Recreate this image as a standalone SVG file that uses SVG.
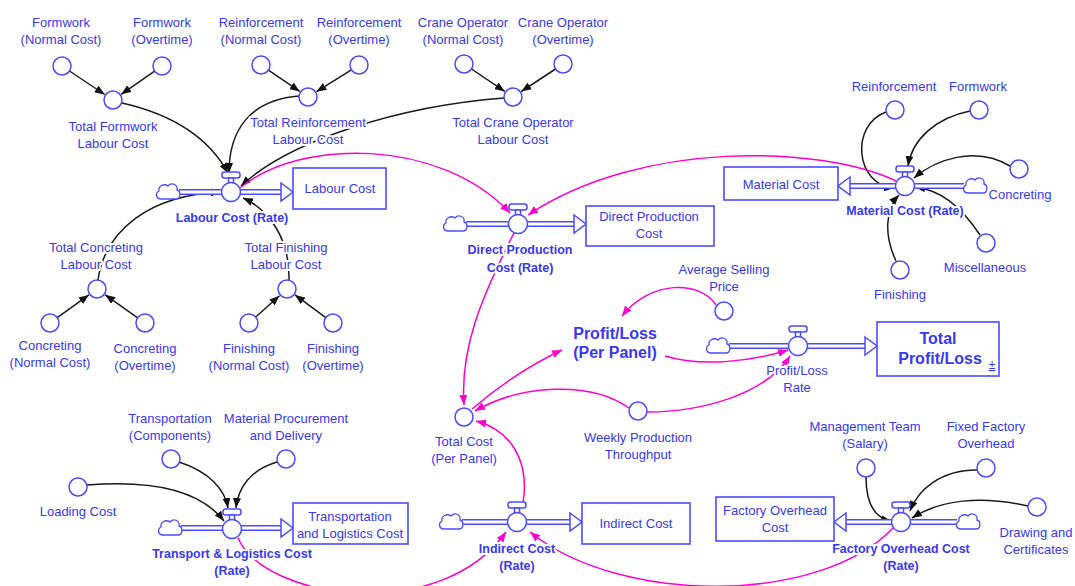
<svg xmlns="http://www.w3.org/2000/svg" xmlns:xlink="http://www.w3.org/1999/xlink" width="1075" height="586" viewBox="0 0 1075 586">
  <style>
    .t { font-family: "Liberation Sans", Arial, sans-serif; font-size: 13px; fill: #3838ee; text-anchor: middle; }
    .h { stroke: #fff; stroke-width: 4; stroke-linejoin: round; paint-order: stroke; }
    .b { font-weight: bold; font-size: 12.5px; }
    .big { font-weight: bold; font-size: 16px; }
    .aux { fill: #fff; stroke: #4a4aff; stroke-width: 1.5; }
    .box { fill: #fff; stroke: #4a4aff; stroke-width: 1.6; }
    .vs { fill: #fff; stroke: #4a4aff; stroke-width: 1.5; }
    .cl { fill: #fff; stroke: #4a4aff; stroke-width: 1.3; }
    .po { stroke: #4a4aff; stroke-width: 6; fill: none; }
    .pi { stroke: #fff; stroke-width: 3; fill: none; }
    .ah { fill: #fff; stroke: #4a4aff; stroke-width: 1.5; stroke-linejoin: miter; }
    .k { fill: none; stroke: #1a1a1a; stroke-width: 1.5; marker-end: url(#ak); }
    .p { fill: none; stroke: #f0c; stroke-width: 1.5; marker-end: url(#ap); }
  </style>
  <defs>
    <marker id="ak" viewBox="0 0 10 8" refX="10" refY="4" markerWidth="10" markerHeight="8" markerUnits="userSpaceOnUse" orient="auto">
      <path d="M0,0L10,4L0,8z" fill="#111"/>
    </marker>
    <marker id="ap" viewBox="0 0 10 8" refX="10" refY="4" markerWidth="10" markerHeight="8" markerUnits="userSpaceOnUse" orient="auto">
      <path d="M0,0L10,4L0,8z" fill="#f0c"/>
    </marker>
    <g id="valve">
      <rect x="-9" y="-20" width="18" height="6" rx="2.5" class="vs"/>
      <rect x="-2.5" y="-14" width="5" height="5" class="vs"/>
      <circle r="9.5" class="vs"/>
    </g>
    <path id="cloud" class="cl" d="M-7,7 C-12,7 -13,1 -9,-1 C-10,-6 -4,-9 0,-6 C3,-10 10,-8 9,-2 C13,-1 13,7 8,7 Z"/>
  </defs>

  <rect width="1075" height="586" fill="#fff"/>

  <!-- connectors -->
  <g id="connectors">
    <!-- labour cost inputs -->
    <path class="k" d="M69.5,71 L104.7,94.5"/>
    <path class="k" d="M154.6,71.1 L121.2,94.3"/>
    <path class="k" d="M268.4,70.1 L299.7,91.4"/>
    <path class="k" d="M351.4,69.8 L316.5,91.7"/>
    <path class="k" d="M471.5,69 L504.7,91.4"/>
    <path class="k" d="M555.5,69 L521.3,91.5"/>
    <path class="k" d="M57.3,317.7 L88.9,294.9"/>
    <path class="k" d="M137.7,317.8 L105.2,294.8"/>
    <path class="k" d="M255.7,317 L279.5,295.7"/>
    <path class="k" d="M325.8,317.7 L295,294.9"/>
    <path class="k" d="M122,103 C175,115 210,140 228,173"/>
    <path class="k" d="M299,96 C250,100 229,130 229,173"/>
    <path class="k" d="M504,98 C400,106 290,140 241,186"/>
    <path class="k" d="M98,280 C105,230 150,195 221,192"/>
    <path class="k" d="M289,280 C290,240 270,210 243,198"/>
    <!-- material cost inputs -->
    <path class="k" d="M886,112 C850,125 855,185 894,188"/>
    <path class="k" d="M970,111 C935,118 912,140 908,166"/>
    <path class="k" d="M1010,166 C975,145 935,160 914,178"/>
    <path class="k" d="M980,235 C960,205 940,190 915,187"/>
    <path class="k" d="M896,261 C884,235 885,210 899,195"/>
    <!-- transport inputs -->
    <path class="k" d="M87,485 C150,480 200,490 224,521"/>
    <path class="k" d="M179,462 C210,472 225,490 228,508"/>
    <path class="k" d="M277,462 C250,470 238,488 236,508"/>
    <!-- factory overhead inputs -->
    <path class="k" d="M866,477 C866,505 875,518 891,521"/>
    <path class="k" d="M977,470 C940,470 918,490 910,511"/>
    <path class="k" d="M1028,506 C980,495 940,500 912,518"/>
    <!-- cost and profit links -->
    <path class="p" d="M240,188 C300,138 440,138 510,213"/>
    <path class="p" d="M896,181 C820,145 640,140 528,215"/>
    <path class="p" d="M514,233 C480,300 460,350 464,405"/>
    <path class="p" d="M472,409 C500,385 530,365 562,350"/>
    <path class="p" d="M716,305 C700,280 650,280 622,316"/>
    <path class="p" d="M665,356 C700,367 750,362 788,350"/>
    <path class="p" d="M647,412 C700,412 765,395 790,356"/>
    <path class="p" d="M629,408 C590,380 520,385 475,411"/>
    <path class="p" d="M523,503 C530,460 510,430 476,421"/>
    <path class="p" d="M238,538 C265,600 440,625 506,532"/>
    <path class="p" d="M893,528 C820,605 620,605 530,532"/>
  </g>

  <!-- flow pipes -->
  <g id="flows">
    <path class="po" d="M179,192H282"/><path class="pi" d="M179,192H282"/>
    <polygon class="ah" points="281,183 293,192 281,201"/>
    <path class="po" d="M466,224H575"/><path class="pi" d="M466,224H575"/>
    <polygon class="ah" points="574,215 586,224 574,233"/>
    <path class="po" d="M964,186H849"/><path class="pi" d="M964,186H849"/>
    <polygon class="ah" points="850,177 838,186 850,195"/>
    <path class="po" d="M729,346H866"/><path class="pi" d="M729,346H866"/>
    <polygon class="ah" points="865,337 877,346 865,355"/>
    <path class="po" d="M181,528H282"/><path class="pi" d="M181,528H282"/>
    <polygon class="ah" points="281,519 293,528 281,537"/>
    <path class="po" d="M462,522H571"/><path class="pi" d="M462,522H571"/>
    <polygon class="ah" points="570,513 582,522 570,531"/>
    <path class="po" d="M957,522H845"/><path class="pi" d="M957,522H845"/>
    <polygon class="ah" points="846,513 834,522 846,531"/>
  </g>

  <!-- labour cost sector -->
  <g id="formwork-normal"><circle class="aux" cx="62" cy="66" r="9"/><text class="t h" x="61" y="27">Formwork<tspan x="61" dy="17">(Normal Cost)</tspan></text></g>
  <g id="formwork-overtime"><circle class="aux" cx="162" cy="66" r="9"/><text class="t h" x="162" y="27">Formwork<tspan x="162" dy="17">(Overtime)</tspan></text></g>
  <g id="reinforcement-normal"><circle class="aux" cx="261" cy="65" r="9"/><text class="t h" x="261" y="27">Reinforcement<tspan x="261" dy="17">(Normal Cost)</tspan></text></g>
  <g id="reinforcement-overtime"><circle class="aux" cx="359" cy="65" r="9"/><text class="t h" x="359" y="27">Reinforcement<tspan x="359" dy="17">(Overtime)</tspan></text></g>
  <g id="crane-normal"><circle class="aux" cx="464" cy="64" r="9"/><text class="t h" x="463" y="27">Crane Operator<tspan x="463" dy="17">(Normal Cost)</tspan></text></g>
  <g id="crane-overtime"><circle class="aux" cx="563" cy="64" r="9"/><text class="t h" x="563" y="27">Crane Operator<tspan x="563" dy="17">(Overtime)</tspan></text></g>
  <g id="total-formwork"><circle class="aux" cx="113" cy="100" r="9"/><text class="t h" x="113" y="131">Total Formwork<tspan x="113" dy="17">Labour Cost</tspan></text></g>
  <g id="total-reinforcement"><circle class="aux" cx="308" cy="97" r="9"/><text class="t h" x="308" y="127">Total Reinforcement<tspan x="308" dy="17">Labour Cost</tspan></text></g>
  <g id="total-crane"><circle class="aux" cx="513" cy="97" r="9"/><text class="t h" x="513" y="127">Total Crane Operator<tspan x="513" dy="17">Labour Cost</tspan></text></g>
  <g id="total-concreting"><circle class="aux" cx="97" cy="289" r="9"/><text class="t h" x="96" y="252">Total Concreting<tspan x="96" dy="17">Labour Cost</tspan></text></g>
  <g id="total-finishing"><circle class="aux" cx="287" cy="289" r="9"/><text class="t h" x="286" y="252">Total Finishing<tspan x="286" dy="17">Labour Cost</tspan></text></g>
  <g id="concreting-normal"><circle class="aux" cx="50" cy="323" r="9"/><text class="t h" x="50" y="350">Concreting<tspan x="50" dy="17">(Normal Cost)</tspan></text></g>
  <g id="concreting-overtime"><circle class="aux" cx="145" cy="323" r="9"/><text class="t h" x="145" y="353">Concreting<tspan x="145" dy="17">(Overtime)</tspan></text></g>
  <g id="finishing-normal"><circle class="aux" cx="249" cy="323" r="9"/><text class="t h" x="249" y="353">Finishing<tspan x="249" dy="17">(Normal Cost)</tspan></text></g>
  <g id="finishing-overtime"><circle class="aux" cx="333" cy="323" r="9"/><text class="t h" x="333" y="353">Finishing<tspan x="333" dy="17">(Overtime)</tspan></text></g>
  <g id="labour-cost-rate"><use href="#cloud" x="168" y="192"/><use href="#valve" x="231" y="192"/><text class="t b h" x="232" y="222">Labour Cost (Rate)</text></g>
  <g id="labour-cost"><rect class="box" x="293" y="168" width="93" height="41"/><text class="t" x="340" y="193">Labour Cost</text></g>

  <!-- direct production -->
  <g id="direct-production-rate"><use href="#cloud" x="455" y="224"/><use href="#valve" x="518" y="224"/><text class="t b h" x="520" y="254">Direct Production<tspan x="520" dy="18">Cost (Rate)</tspan></text></g>
  <g id="direct-production-cost"><rect class="box" x="586" y="206" width="128" height="40"/><text class="t" x="649" y="221">Direct Production<tspan x="649" dy="17">Cost</tspan></text></g>

  <!-- material cost sector -->
  <g id="mat-reinforcement"><circle class="aux" cx="895" cy="110" r="9"/><text class="t h" x="894" y="91">Reinforcement</text></g>
  <g id="mat-formwork"><circle class="aux" cx="979" cy="110" r="9"/><text class="t h" x="978" y="91">Formwork</text></g>
  <g id="mat-concreting"><circle class="aux" cx="1019" cy="169" r="9"/><text class="t h" x="1020" y="199">Concreting</text></g>
  <g id="mat-miscellaneous"><circle class="aux" cx="986" cy="243" r="9"/><text class="t h" x="985" y="272">Miscellaneous</text></g>
  <g id="mat-finishing"><circle class="aux" cx="900" cy="270" r="9"/><text class="t h" x="900" y="299">Finishing</text></g>
  <g id="material-cost-rate"><use href="#cloud" x="975" y="186"/><use href="#valve" x="905" y="186"/><text class="t b h" x="905" y="215">Material Cost (Rate)</text></g>
  <g id="material-cost"><rect class="box" x="724" y="167" width="114" height="33"/><text class="t" x="781" y="189">Material Cost</text></g>

  <!-- profit -->
  <g id="average-selling-price"><circle class="aux" cx="724" cy="311" r="9"/><text class="t h" x="724" y="274">Average Selling<tspan x="724" dy="17">Price</tspan></text></g>
  <g id="profit-loss-per-panel"><text class="t big h" x="615" y="339">Profit/Loss<tspan x="615" dy="19">(Per Panel)</tspan></text></g>
  <g id="profit-loss-rate"><use href="#cloud" x="718" y="346"/><use href="#valve" x="798" y="346"/><text class="t h" x="797" y="375">Profit/Loss<tspan x="797" dy="17">Rate</tspan></text></g>
  <g id="total-profit-loss"><rect class="box" x="877" y="322" width="122" height="54"/><text class="t big" x="938" y="344">Total<tspan x="940" dy="20">Profit/Loss</tspan></text><text class="t" x="992" y="369" style="font-size:12px;text-decoration:underline">±</text></g>
  <g id="total-cost"><circle class="aux" cx="464" cy="417" r="9"/><text class="t h" x="464" y="446">Total Cost<tspan x="464" dy="17">(Per Panel)</tspan></text></g>
  <g id="weekly-throughput"><circle class="aux" cx="638" cy="411" r="9"/><text class="t h" x="638" y="442">Weekly Production<tspan x="638" dy="17">Throughput</tspan></text></g>

  <!-- transport and logistics -->
  <g id="transport-components"><circle class="aux" cx="171" cy="459" r="9"/><text class="t h" x="170" y="423">Transportation<tspan x="170" dy="17">(Components)</tspan></text></g>
  <g id="material-procurement"><circle class="aux" cx="286" cy="459" r="9"/><text class="t h" x="286" y="423">Material Procurement<tspan x="286" dy="17">and Delivery</tspan></text></g>
  <g id="loading-cost"><circle class="aux" cx="78" cy="487" r="9"/><text class="t h" x="78" y="516">Loading Cost</text></g>
  <g id="transport-rate"><use href="#cloud" x="170" y="528"/><use href="#valve" x="232" y="529"/><text class="t b h" x="232" y="558">Transport &amp; Logistics Cost<tspan x="232" dy="17">(Rate)</tspan></text></g>
  <g id="transport-cost"><rect class="box" x="293" y="503" width="115" height="41"/><text class="t" x="350" y="521">Transportation<tspan x="350" dy="17">and Logistics Cost</tspan></text></g>

  <!-- indirect -->
  <g id="indirect-rate"><use href="#cloud" x="451" y="522"/><use href="#valve" x="517" y="522"/><text class="t b h" x="517" y="553">Indirect Cost<tspan x="517" dy="17">(Rate)</tspan></text></g>
  <g id="indirect-cost"><rect class="box" x="582" y="503" width="108" height="41"/><text class="t" x="636" y="528">Indirect Cost</text></g>

  <!-- factory overhead -->
  <g id="management-team"><circle class="aux" cx="866" cy="468" r="9"/><text class="t h" x="865" y="431">Management Team<tspan x="865" dy="17">(Salary)</tspan></text></g>
  <g id="fixed-overhead"><circle class="aux" cx="986" cy="468" r="9"/><text class="t h" x="986" y="431">Fixed Factory<tspan x="986" dy="17">Overhead</tspan></text></g>
  <g id="drawing-certificates"><circle class="aux" cx="1037" cy="507" r="9"/><text class="t h" x="1036" y="537">Drawing and<tspan x="1036" dy="17">Certificates</tspan></text></g>
  <g id="factory-overhead-rate"><use href="#cloud" x="968" y="522"/><use href="#valve" x="901" y="522"/><text class="t b h" x="901" y="553">Factory Overhead Cost<tspan x="901" dy="17">(Rate)</tspan></text></g>
  <g id="factory-overhead-cost"><rect class="box" x="716" y="497" width="118" height="44"/><text class="t" x="775" y="515">Factory Overhead<tspan x="775" dy="17">Cost</tspan></text></g>
</svg>
